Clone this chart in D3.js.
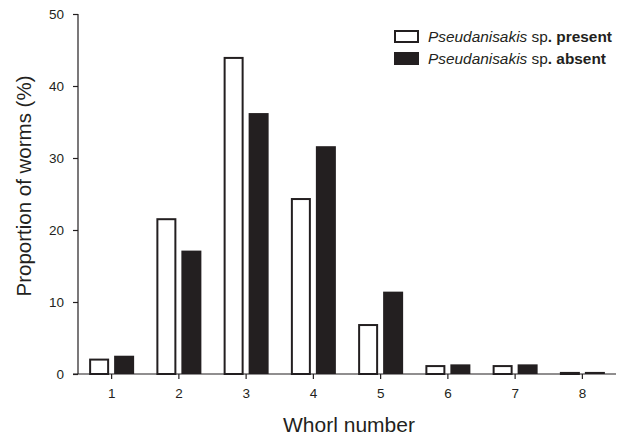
<!DOCTYPE html>
<html>
<head>
<meta charset="utf-8">
<script src="https://cdn.jsdelivr.net/npm/d3@7"></script>
<style>
  body { margin: 0; background: #fff; }
  svg text { font-family: "Liberation Sans", Arial, sans-serif; fill: #231f20; }
</style>
</head>
<body>
<div id="chart"></div>
<script>
// whorl categories and the two series (percent of worms)
var whorls = ["1", "2", "3", "4", "5", "6", "7", "8"];
var present = [2.0, 21.5, 43.9, 24.3, 6.8, 1.1, 1.1, 0.15];
var absent = [2.4, 17.0, 36.1, 31.5, 11.3, 1.2, 1.2, 0.15];
var yTicks = [0, 10, 20, 30, 40, 50];

var width = 620, height = 441;
var margin = {top: 14, right: 4, bottom: 67, left: 78};
var ink = "#231f20";

var svg = d3.select("#chart").append("svg")
    .attr("width", width)
    .attr("height", height);

var x = d3.scaleBand()
    .domain(whorls)
    .range([margin.left, width - margin.right]);

var y = d3.scaleLinear()
    .domain([0, 50])
    .range([height - margin.bottom, margin.top]);

var barW = 18;

// bars: white = present, black = absent
svg.append("g").selectAll("rect")
    .data(present)
    .join("rect")
    .attr("x", function(d, i) { return x(whorls[i]) + x.bandwidth() / 2 - 12.5 - barW / 2; })
    .attr("y", function(d) { return y(d); })
    .attr("width", barW)
    .attr("height", function(d) { return y(0) - y(d); })
    .attr("fill", "#fff")
    .attr("stroke", ink)
    .attr("stroke-width", 2);

svg.append("g").selectAll("rect")
    .data(absent)
    .join("rect")
    .attr("x", function(d, i) { return x(whorls[i]) + x.bandwidth() / 2 + 12.5 - (barW + 2) / 2; })
    .attr("y", function(d) { return y(d) - 1; })
    .attr("width", barW + 2)
    .attr("height", function(d) { return y(0) - y(d) + 1; })
    .attr("fill", ink);

// axes
var xAxis = d3.axisBottom(x).tickSize(5).tickPadding(9);
var gx = svg.append("g")
    .attr("transform", "translate(0," + y(0) + ")")
    .call(xAxis);
gx.select(".domain").attr("d", "M" + (margin.left - 5) + ",0H" + (width - margin.right));

var yAxis = d3.axisLeft(y).tickValues(yTicks).tickSize(5).tickPadding(9);
var gy = svg.append("g")
    .attr("transform", "translate(" + margin.left + ",0)")
    .call(yAxis);
gy.select(".domain").attr("d", "M0," + y(0) + "V" + y(50));

svg.selectAll(".tick text").attr("font-size", 13.5).attr("fill", "#231f20")
    .style("font-family", "'Liberation Sans', Arial, sans-serif");
svg.selectAll(".domain, .tick line").attr("stroke", ink).attr("stroke-width", 1.2);

// axis titles
svg.append("text")
    .attr("x", 349)
    .attr("y", 432)
    .attr("text-anchor", "middle")
    .attr("font-size", 21)
    .text("Whorl number");

svg.append("text")
    .attr("transform", "translate(31,186) rotate(-90)")
    .attr("text-anchor", "middle")
    .attr("font-size", 20.5)
    .text("Proportion of worms (%)");

// legend
var legend = [
  {label: "present", fill: "#fff"},
  {label: "absent", fill: ink}
];
var lg = svg.append("g").attr("transform", "translate(394,30)");
legend.forEach(function(d, i) {
  var row = lg.append("g").attr("transform", "translate(0," + (i * 22) + ")");
  row.append("rect")
    .attr("x", d.fill === "#fff" ? 1 : 0)
    .attr("y", d.fill === "#fff" ? 1 : 0)
    .attr("width", d.fill === "#fff" ? 23 : 25)
    .attr("height", d.fill === "#fff" ? 11 : 13)
    .attr("fill", d.fill)
    .attr("stroke", d.fill === "#fff" ? ink : "none")
    .attr("stroke-width", 2);
  var t = row.append("text")
    .attr("x", 34)
    .attr("y", 12)
    .attr("font-size", 15.4);
  t.append("tspan").attr("font-style", "italic").text("Pseudanisakis");
  t.append("tspan").text(" sp");
  t.append("tspan").attr("font-weight", "bold").text(". " + d.label);
});
</script>
</body>
</html>
